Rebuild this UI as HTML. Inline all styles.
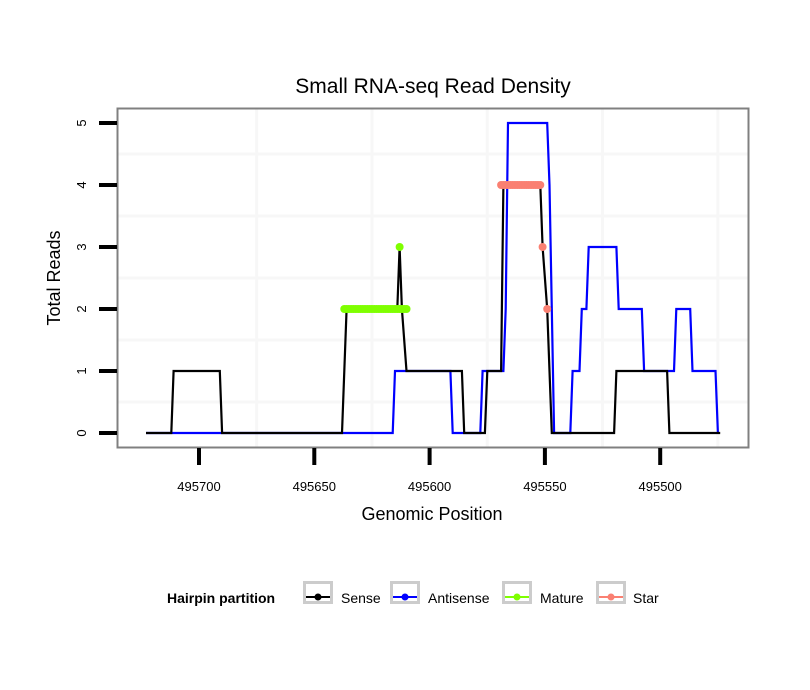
<!DOCTYPE html>
<html><head><meta charset="utf-8"><style>
html,body{margin:0;padding:0;background:#fff;}
svg{display:block;font-family:"Liberation Sans",Arial,sans-serif;}
</style></head><body>
<svg id="chart" width="810" height="690" viewBox="0 0 810 690" xmlns="http://www.w3.org/2000/svg">
<rect x="0" y="0" width="810" height="690" fill="#fff"/>
<text x="433" y="93" text-anchor="middle" font-size="21" fill="#000">Small RNA-seq Read Density</text>
<g id="grid"></g>
<g id="series"></g>
<rect x="117.5" y="108.5" width="631" height="339" fill="none" stroke="#808080" stroke-width="2"/>
<g id="axes"></g>
<text x="432" y="520" text-anchor="middle" font-size="18">Genomic Position</text>
<text transform="translate(60,278) rotate(-90)" text-anchor="middle" font-size="18">Total Reads</text>
<g>
<text x="167" y="603" font-size="14" font-weight="bold">Hairpin partition</text>
<g>
<rect x="304.5" y="582.5" width="27" height="20" fill="#fff" stroke="#cccccc" stroke-width="3"/>
<line x1="306" y1="597" x2="330" y2="597" stroke="#000" stroke-width="2"/><circle cx="318" cy="597" r="3.5" fill="#000"/>
<text x="341" y="603" font-size="14">Sense</text></g>
<g>
<rect x="391.5" y="582.5" width="27" height="20" fill="#fff" stroke="#cccccc" stroke-width="3"/>
<line x1="393" y1="597" x2="417" y2="597" stroke="#0000ff" stroke-width="2"/><circle cx="405" cy="597" r="3.5" fill="#0000ff"/>
<text x="428" y="603" font-size="14">Antisense</text></g>
<g>
<rect x="503.5" y="582.5" width="27" height="20" fill="#fff" stroke="#cccccc" stroke-width="3"/>
<line x1="505" y1="597" x2="529" y2="597" stroke="#7fff00" stroke-width="2"/><circle cx="517" cy="597" r="3.5" fill="#7fff00"/>
<text x="540" y="603" font-size="14">Mature</text></g>
<g>
<rect x="597.5" y="582.5" width="27" height="20" fill="#fff" stroke="#cccccc" stroke-width="3"/>
<line x1="599" y1="597" x2="623" y2="597" stroke="#fa8072" stroke-width="2"/><circle cx="611" cy="597" r="3.5" fill="#fa8072"/>
<text x="633" y="603" font-size="14">Star</text></g>
</g>
</svg>
<script>
const xTicks = [495700, 495650, 495600, 495550, 495500];
const xGrid = [495675, 495625, 495575, 495525, 495475];
const yTicks = [0, 1, 2, 3, 4, 5];
const yGrid = [0.5, 1.5, 2.5, 3.5, 4.5];
const senseX = [495723,495712,495711,495691,495690,495638,495636,495614,495613,495612,495610,495586,495585,495576,495575,495569,495568,495552,495551,495549,495547,495520,495519,495497,495496,495474];
const senseY = [0,0,1,1,0,0,2,2,3,2,1,1,0,0,1,1,4,4,3,2,0,0,1,1,0,0];
const antiX = [495723,495616,495615,495591,495590,495578,495577,495568,495567,495566,495549,495548,495546,495539,495538,495535,495534,495532,495531,495519,495518,495508,495507,495494,495493,495487,495486,495476,495475];
const antiY = [0,0,1,1,0,0,1,1,2,5,5,4,0,0,1,1,2,2,3,3,2,2,1,1,2,2,1,1,0];
const matureX = [495637,495636,495635,495634,495633,495632,495631,495630,495629,495628,495627,495626,495625,495624,495623,495622,495621,495620,495619,495618,495617,495616,495615,495614,495613,495612,495611,495610,495613];
const matureY = [2,2,2,2,2,2,2,2,2,2,2,2,2,2,2,2,2,2,2,2,2,2,2,2,2,2,2,2,3];
const starX = [495569,495568,495567,495566,495565,495564,495563,495562,495561,495560,495559,495558,495557,495556,495555,495554,495553,495552,495551,495549];
const starY = [4,4,4,4,4,4,4,4,4,4,4,4,4,4,4,4,4,4,3,2];

const NS = "http://www.w3.org/2000/svg";
function xs(v){ return 199 + (495700 - v) * (115.3/50); }
function ys(v){ return 433 - v * 62; }
function mk(tag, attrs, parent){ const e=document.createElementNS(NS,tag); for(const k in attrs) e.setAttribute(k,attrs[k]); parent.appendChild(e); return e; }

const grid = document.getElementById('grid');
for (let i=0;i<xGrid.length;i++){
  const v = xGrid[i];
  const gl = mk('line',{x1:xs(v),x2:xs(v),y1:109,y2:447,stroke:'#f7f7f7','stroke-width':3},grid);
  
  
}
for (let i=0;i<yGrid.length;i++){
  const v=yGrid[i];
  const gl = mk('line',{x1:118,x2:748,y1:ys(v),y2:ys(v),stroke:'#f7f7f7','stroke-width':3},grid);
  
  
}

const series = document.getElementById('series');
function drawLine(X,Y,color,name){
  const pts = X.map((x,i)=>xs(x).toFixed(1)+','+ys(Y[i]).toFixed(1)).join(' ');
  const p = mk('polyline',{points:pts,fill:'none',stroke:color,'stroke-width':2.2,'stroke-linejoin':'miter'},series);
  
  
}
function drawDots(X,Y,color,name){
  for(let i=0;i<X.length;i++){
    const c = mk('circle',{cx:xs(X[i]),cy:ys(Y[i]),r:4,fill:color},series);
    
    
  }
}
drawLine(antiX,antiY,'#0000ff','antisense-line');
drawLine(senseX,senseY,'#000000','sense-line');
drawDots(matureX,matureY,'#7fff00','mature-point');
drawDots(starX,starY,'#fa8072','star-point');

const axes = document.getElementById('axes');
for (let i=0;i<xTicks.length;i++){
  const v=xTicks[i];
  const t = mk('line',{x1:xs(v),x2:xs(v),y1:448,y2:465,stroke:'#000','stroke-width':4},axes);
  
  
  const l = mk('text',{x:xs(v),y:491,'text-anchor':'middle','font-size':13},axes);
  l.textContent = String(v);
  
  
}
for (let i=0;i<yTicks.length;i++){
  const v=yTicks[i];
  const t = mk('line',{x1:99,x2:117,y1:ys(v),y2:ys(v),stroke:'#000','stroke-width':4},axes);
  
  
  const l = mk('text',{transform:'translate(86,'+ys(v)+') rotate(-90)','text-anchor':'middle','font-size':13},axes);
  l.textContent = String(v);
  
  
}
</script>
</body></html>
